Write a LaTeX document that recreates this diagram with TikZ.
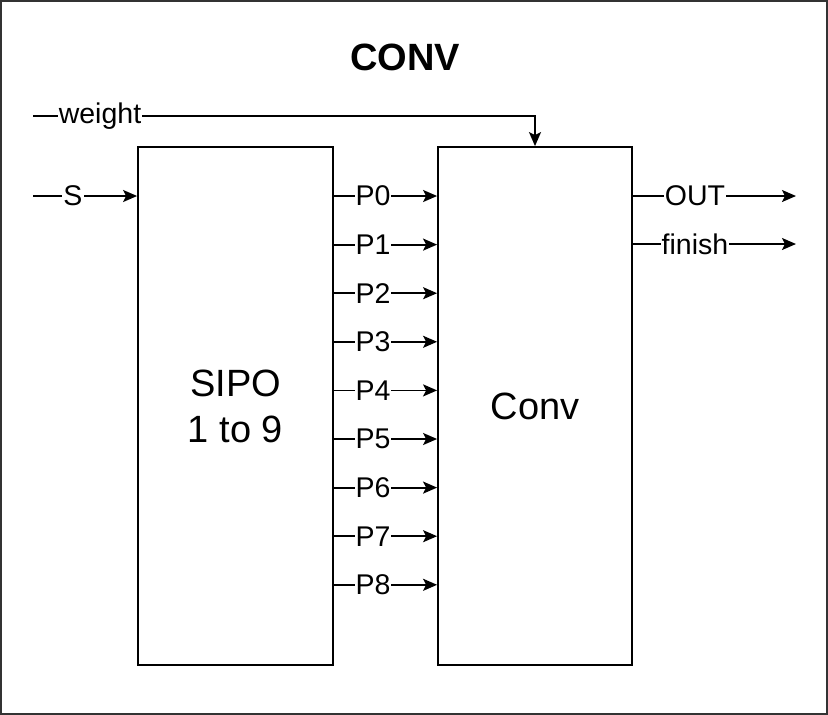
\documentclass[tikz,border=0pt]{standalone}
\usepackage{fontspec}
\setmainfont{Liberation Sans}
\usetikzlibrary{arrows.meta}
\begin{document}
\begin{tikzpicture}[x=1pt,y=-1pt,
  blk/.style={draw, line width=1.8pt},
  lbl/.style={fill=white, inner sep=1pt, font=\fontsize{28.5}{32}\selectfont},
  wire/.style={line width=1.8pt},
  arr/.style={wire, -{Stealth[length=14pt,width=12pt,inset=3pt]}},
  big/.style={font=\fontsize{38}{46}\selectfont, align=center}]
\useasboundingbox (0,0) rectangle (828,715);
\draw[line width=2.5pt, black!80] (1.2,1.2) rectangle (826.8,713.8);
\node[font=\fontsize{38}{44}\selectfont\bfseries] (title) at (405,57) {CONV};
\node[blk, minimum width=195pt, minimum height=518pt, big] (sipo) at (235.5,406) {SIPO\\1 to 9};
\node[blk, minimum width=194pt, minimum height=518pt, big] (conv) at (535,406) {Conv};
% weight
\coordinate (wstart) at (33,116);
\draw[arr] (wstart) -- (conv.north |- wstart) -- (conv.north);
\node[lbl] at (100,116) {weight};
% S
\coordinate (sstart) at (33,196);
\draw[arr] (sstart) -- (sipo.west |- sstart);
\node[lbl] at (73,196) {S};
% P lines
\foreach \i in {0,...,8} {
  \pgfmathsetmacro{\yy}{196+48.6*\i}
  \coordinate (p\i) at (333,\yy);
  \draw[arr] (sipo.east |- p\i) -- (conv.west |- p\i);
  \node[lbl] at (373,\yy) {P\i};
}
% outputs
\coordinate (oend) at (796,196);
\coordinate (fend) at (796,244);
\draw[arr] (conv.east |- oend) -- (oend);
\node[lbl] at (695,196) {OUT};
\draw[arr] (conv.east |- fend) -- (fend);
\node[lbl] at (695,244) {finish};
\end{tikzpicture}
\end{document}
